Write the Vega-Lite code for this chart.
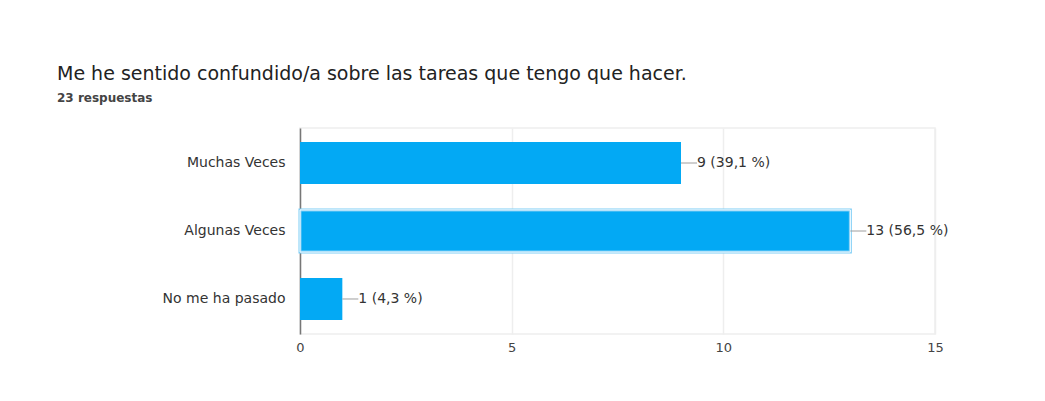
{
  "$schema": "https://vega.github.io/schema/vega-lite/v6.json",
  "width": 635,
  "height": 206,
  "autosize": {"type": "none"},
  "padding": {"left": 300, "top": 128, "right": 110, "bottom": 67},
  "background": "white",
  "title": {
    "text": "Me he sentido confundido/a sobre las tareas que tengo que hacer.",
    "subtitle": "23 respuestas",
    "anchor": "start",
    "frame": "group",
    "dx": -243,
    "offset": 24,
    "font": "DejaVu Sans",
    "fontSize": 19,
    "fontWeight": "normal",
    "color": "#222222",
    "subtitleFont": "DejaVu Sans",
    "subtitleFontSize": 12,
    "subtitleFontWeight": "bold",
    "subtitleColor": "#444444",
    "subtitlePadding": 9
  },
  "data": {
    "values": [
      {"respuesta": "Muchas Veces", "n": 9, "etiqueta": "9 (39,1 %)", "sel": false},
      {"respuesta": "Algunas Veces", "n": 13, "etiqueta": "13 (56,5 %)", "sel": true},
      {"respuesta": "No me ha pasado", "n": 1, "etiqueta": "1 (4,3 %)", "sel": false}
    ]
  },
  "encoding": {
    "y": {
      "field": "respuesta",
      "type": "nominal",
      "sort": null,
      "title": null,
      "scale": {"paddingInner": 0.38, "paddingOuter": 0.205},
      "axis": {
        "ticks": false,
        "domain": true,
        "domainColor": "#777777",
        "domainWidth": 1.5,
        "labelPadding": 15,
        "labelFont": "DejaVu Sans",
        "labelFontSize": 14,
        "labelColor": "#333333"
      }
    },
    "x": {
      "field": "n",
      "type": "quantitative",
      "title": null,
      "scale": {"domain": [0, 15], "nice": false},
      "axis": {
        "values": [0, 5, 10, 15],
        "ticks": false,
        "domain": false,
        "grid": true,
        "gridColor": "#eeeeee",
        "gridWidth": 1.5,
        "labelFlush": false,
        "labelPadding": 7,
        "labelFont": "DejaVu Sans",
        "labelFontSize": 13,
        "labelColor": "#444444"
      }
    }
  },
  "layer": [
    {
      "mark": {"type": "bar", "color": "#03a9f4", "strokeWidth": 3},
      "encoding": {
        "stroke": {
          "condition": {"test": "datum.sel", "value": "#7dcdf6"},
          "value": null
        }
      }
    },
    {
      "transform": [{"filter": "datum.sel"}],
      "mark": {"type": "bar", "filled": false, "stroke": "white", "strokeWidth": 1}
    },
    {
      "mark": {"type": "rule", "color": "#9e9e9e", "strokeWidth": 1, "x2Offset": 16},
      "encoding": {"x2": {"field": "n"}}
    },
    {
      "mark": {
        "type": "text",
        "align": "left",
        "baseline": "middle",
        "dx": 16,
        "font": "DejaVu Sans",
        "fontSize": 14,
        "color": "#333333"
      },
      "encoding": {"text": {"field": "etiqueta"}}
    }
  ],
  "config": {
    "view": {"stroke": "#eeeeee", "strokeWidth": 1.5}
  }
}
